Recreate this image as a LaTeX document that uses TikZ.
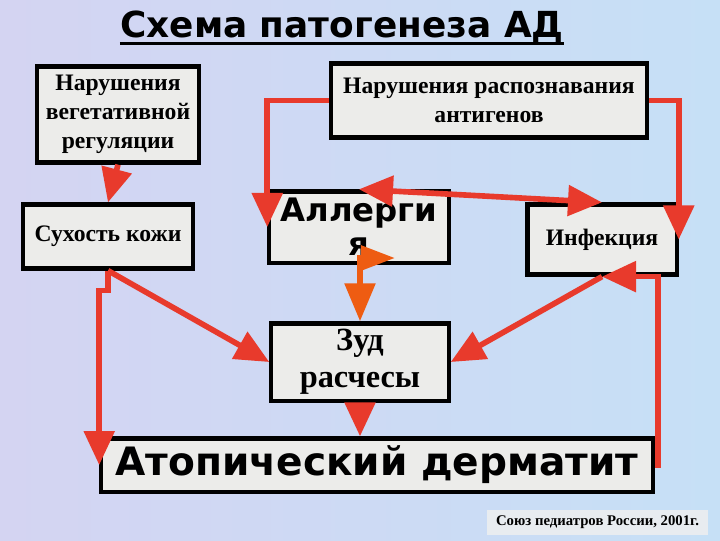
\documentclass[tikz,border=0pt]{standalone}
\usepackage{fontspec}
\setmainfont{Liberation Serif}
\newfontfamily\verdfont{DejaVu Sans}
\usetikzlibrary{arrows.meta}
\definecolor{arrred}{RGB}{232,58,44}
\definecolor{arrorange}{RGB}{238,92,18}
\definecolor{boxgray}{RGB}{236,236,234}
\definecolor{footgray}{RGB}{232,236,240}
\definecolor{bgleft}{RGB}{212,212,242}
\definecolor{bgright}{RGB}{198,224,246}

\begin{document}
\begin{tikzpicture}[
            x=0.025cm,y=-0.025cm,
            box/.style={draw=black,line width=3pt,fill=boxgray,inner sep=1pt,align=center},
            serif box/.style={box,font=\bfseries\fontsize{16.8}{20.6}\selectfont},
            sans box/.style={box,font=\verdfont\bfseries\fontsize{23}{24}\selectfont},
            red arrow/.style={color=arrred,line width=4pt,-{Triangle[length=0.85cm,width=0.75cm]}},
            orange arrow/.style={color=arrorange,line width=4pt,
                {Triangle[length=0.95cm,width=0.75cm]}-{Triangle[length=0.85cm,width=0.6cm]}}]
        % Background
        \shade[left color=bgleft,right color=bgright] (0,0) rectangle (720,540);
        \useasboundingbox (0,0) rectangle (720,540);

        % Define boxes
        \node[inner sep=0,font=\verdfont\bfseries\fontsize{25.5}{28}\selectfont] (title) at (342,27) {Схема патогенеза АД};
        \node[serif box,minimum width=4.03cm,minimum height=2.4cm] (vegreg) at (118,114.5) {Нарушения\\вегетативной\\регуляции};
        \node[serif box,minimum width=7.88cm,minimum height=1.85cm] (antigen) at (489,100.5) {Нарушения распознавания\\антигенов};
        \node[serif box,minimum width=4.23cm,minimum height=1.6cm] (dryskin) at (108,236.5) {Сухость кожи};
        \node[sans box,minimum width=4.48cm,minimum height=1.78cm] (allergy) at (359,227) {Аллерги\\я};
        \node[serif box,minimum width=3.73cm,minimum height=1.75cm] (infect) at (602,239.5) {Инфекция};
        \node[serif box,font=\bfseries\fontsize{23}{26}\selectfont,minimum width=4.43cm,minimum height=1.93cm] (itch) at (360,362) {Зуд\\расчесы};
        \node[sans box,font=\verdfont\bfseries\fontsize{27.8}{30}\selectfont,minimum width=13.78cm,minimum height=1.33cm] (atopic) at (377,465) {Атопический дерматит};
        \node[fill=footgray,minimum width=5.53cm,minimum height=0.63cm,font=\bfseries\fontsize{10.5}{12}\selectfont] (source) at (597.5,522.5) {Союз педиатров России, 2001г.};
        \coordinate (turn) at (395,258);

        % Underline of the title
        \draw[line width=2pt] ([yshift=-4pt]title.base west) -- ([yshift=-4pt]title.base east);

        % Draw arrows
        \path[red arrow]
            (vegreg.south) edge (dryskin.north)
            (dryskin.south) edge (itch.west)
            (infect.south) edge (itch.east)
            (itch.south) edge (itch.south |- atopic.north);
        \draw[red arrow] (antigen.west) -| (allergy.west);
        \draw[red arrow] (antigen.east) -| (infect.east);
        \draw[red arrow,{Triangle[length=0.85cm,width=0.75cm]}-{Triangle[length=0.85cm,width=0.75cm]}] (allergy.north) -- (infect.north);
        \draw[red arrow] (dryskin.south) -- ++(0,20) -| (atopic.west);
        \draw[red arrow] (atopic.east) -- ++(3,0) |- (infect.south);
        \draw[orange arrow] (itch.north) |- (turn);
\end{tikzpicture}
\end{document}
